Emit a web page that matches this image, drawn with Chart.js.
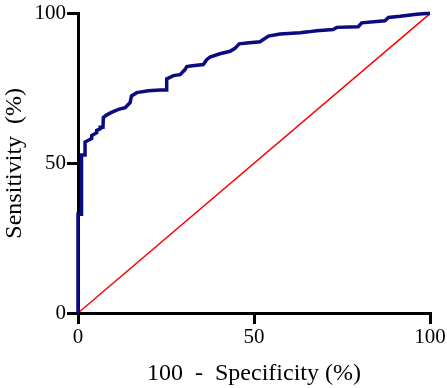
<!DOCTYPE html>
<html><head><meta charset="utf-8">
<script src="https://cdn.jsdelivr.net/npm/chart.js@4/dist/chart.umd.min.js"></script>
<style>html,body{margin:0;padding:0;background:#fff}#wrap{width:447px;height:388px}</style>
</head><body><div id="wrap"><canvas id="c" width="447" height="388"></canvas></div>
<script>
const rocX = [0,0,1,1,2,2,3.9,3.9,5.3,5.3,6.3,6.3,7.1,7.2,8.1,9.5,11.5,13.4,14.8,15.2,16.7,20,23.3,25.2,25.2,27.1,29,30.4,30.9,32.5,35.6,36.5,37.5,40.3,43.2,44.6,45.8,48,51.7,54.1,57.4,63.1,65.4,67.8,72.5,73.5,79.6,80.6,87.2,88.2,91.5,96.2,98.9,100];
const rocY = [0,33,33,52.8,52.8,57.1,58.3,59.3,60.2,61,61.5,62,62,65.3,66.1,67,68,68.6,70.3,72.5,73.6,74.2,74.5,74.5,78.2,79.3,79.6,81.3,82.3,82.6,83,84.5,85.5,86.6,87.4,88.4,89.9,90.2,90.6,92.5,93.2,93.6,93.9,94.3,94.7,95.4,95.6,96.9,97.6,98.7,99.1,99.8,100,100];
const refX = [0,100];
const refY = [0,100];
const xTicks = [0,50,100];
const yTicks = [0,50,100];
const xTitle = "100  -  Specificity (%)";
const yTitle = "Sensitivity  (%)";

const serif = "'Liberation Serif','Times New Roman',serif";
const rocPts = rocX.map((x,i)=>({x:x,y:rocY[i]}));
const refPts = refX.map((x,i)=>({x:x,y:refY[i]}));

function axisCommon(titleText, ticks){
  return {
    type:'linear', min:0, max:100,
    afterBuildTicks: s => { s.ticks = ticks.map(v=>({value:v})); },
    ticks:{color:'#000', font:{family:serif,size:21}, padding:1},
    grid:{display:true, drawOnChartArea:false, drawTicks:true, tickLength:11, tickWidth:3, tickColor:'#000', color:'#000', lineWidth:3},
    border:{display:true, color:'#000', width:3},
    title:{display:true, text:titleText, color:'#000', font:{family:serif,size:24}, padding:0}
  };
}
const xs = axisCommon(xTitle, xTicks);
xs.afterFit = s => { s.height = 75; };
const ys = axisCommon(yTitle, yTicks);
ys.afterFit = s => { s.width = 78; };

new Chart(document.getElementById('c'), {
  type:'line',
  data:{datasets:[
    {data:rocPts, borderColor:'#0b0b80', borderWidth:3.5, pointRadius:0, tension:0, fill:false, clip:false, borderJoinStyle:'miter'},
    {data:refPts, borderColor:'#ff0000', borderWidth:1.5, pointRadius:0, tension:0, fill:false, clip:false}
  ]},
  options:{
    responsive:false, animation:false, devicePixelRatio:1,
    layout:{padding:{left:0,right:17,top:10,bottom:0}},
    plugins:{legend:{display:false}, tooltip:{enabled:false}},
    scales:{x:xs, y:ys}
  }
});
</script></body></html>
